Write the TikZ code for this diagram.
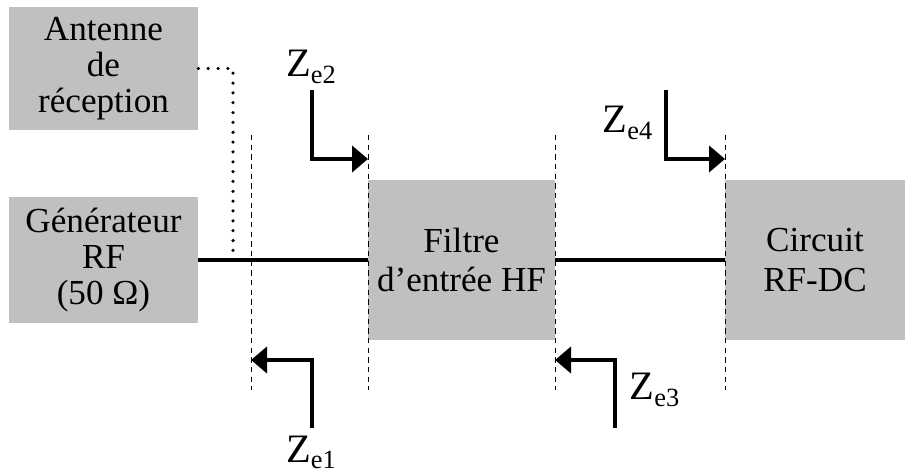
\documentclass[tikz,border=0pt]{standalone}
\usepackage{fontspec}
\setmainfont{Liberation Serif}
\usetikzlibrary{arrows.meta}

\definecolor{grisbloc}{RGB}{192,192,192}

\newcommand{\zent}[1]{Z\raisebox{-3.5pt}{\fontsize{15}{15}\selectfont e#1}}

\begin{document}
\begin{tikzpicture}[
  bloc/.style={
    rectangle,
    fill=grisbloc,
    align=center,
    inner sep=0pt,
    font=\fontsize{20}{20.5}\selectfont
  },
  ligne/.style={
    line width=1.8pt
  },
  sonde/.style={
    line width=2pt,
    line cap=round,
    dash pattern=on 0pt off 5.6pt
  },
  plan/.style={
    line width=0.5pt,
    dash pattern=on 3pt off 2.5pt
  },
  zfl/.style={
    line width=2.6pt,
    -{Triangle[length=0.32cm,width=0.52cm]}
  },
  zlbl/.style={
    anchor=base,
    inner sep=0pt,
    font=\fontsize{23}{23}\selectfont
  }
]

\useasboundingbox (0,0) rectangle (18.1,-9.48);

% =========================================================
% BLOCS
% =========================================================

\node[bloc, minimum width=3.78cm, minimum height=2.46cm] (ant) at (2.07,-1.37)
  {Antenne\\de\\réception};

\node[bloc, minimum width=3.78cm, minimum height=2.52cm] (gen) at (2.07,-5.2)
  {Générateur\\RF\\(50 Ω)};

\node[bloc, minimum width=3.74cm, minimum height=3.2cm] (filtre) at (9.23,-5.2)
  {Filtre\\[2pt]d’entrée HF};

\node[bloc, minimum width=3.6cm, minimum height=3.2cm] (rfdc) at (16.3,-5.2)
  {Circuit\\[2pt]RF-DC};

% =========================================================
% LIAISONS
% =========================================================

\coordinate (tap) at (4.66,-5.2);

\draw[ligne] (gen) -- (filtre);
\draw[ligne] (filtre) -- (rfdc);

\draw[sonde] (ant.east) -| (tap);

% =========================================================
% PLANS DE REFERENCE
% =========================================================

\foreach \px/\nom in {5.02/p1, 7.36/p2, 11.1/p3, 14.5/p4} {
  \coordinate (\nom h) at (\px,-2.7);
  \coordinate (\nom b) at (\px,-7.8);
  \draw[plan] (\nom h) -- (\nom b);
}

% =========================================================
% IMPEDANCES D'ENTREE
% =========================================================

\coordinate (z1d) at (6.24,-8.56);
\coordinate (z1a) at (5.02,-7.2);
\coordinate (z2d) at (6.24,-1.8);
\coordinate (z2a) at (7.36,-3.18);
\coordinate (z3d) at (12.3,-8.56);
\coordinate (z3a) at (11.1,-7.2);
\coordinate (z4d) at (13.32,-1.8);
\coordinate (z4a) at (14.5,-3.18);

\draw[zfl] (z1d) |- (z1a);
\draw[zfl] (z2d) |- (z2a);
\draw[zfl] (z3d) |- (z3a);
\draw[zfl] (z4d) |- (z4a);

\node[zlbl] (ze1) at (6.22,-9.24) {\zent{1}};
\node[zlbl] (ze2) at (6.22,-1.54) {\zent{2}};
\node[zlbl] (ze3) at (13.09,-8.0) {\zent{3}};
\node[zlbl] (ze4) at (12.55,-2.66) {\zent{4}};

\end{tikzpicture}
\end{document}
